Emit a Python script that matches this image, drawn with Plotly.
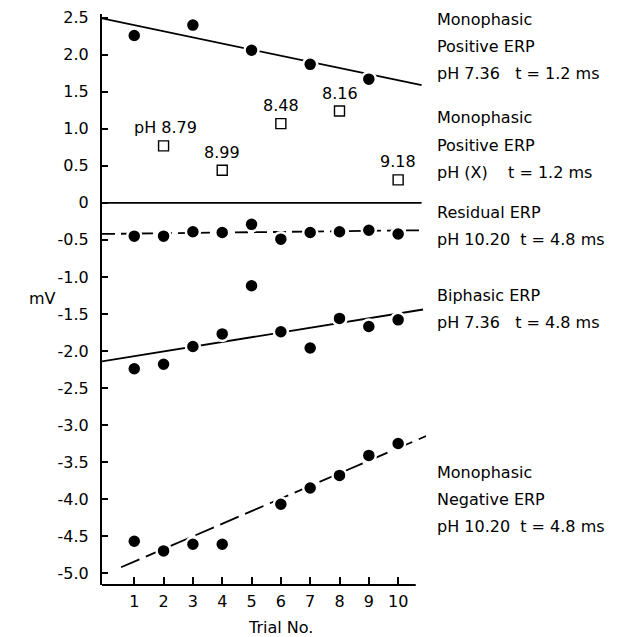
import plotly.graph_objects as go

# ---------------- data ----------------
pos736_x = [1, 3, 5, 7, 9]
pos736_y = [2.26, 2.40, 2.06, 1.87, 1.67]

phx_x = [2, 4, 6, 8, 10]
phx_y = [0.77, 0.44, 1.07, 1.24, 0.31]
phx_labels = ["pH 8.79", "8.99", "8.48", "8.16", "9.18"]

resid_x = [1, 2, 3, 4, 5, 6, 7, 8, 9, 10]
resid_y = [-0.45, -0.45, -0.39, -0.40, -0.29, -0.49, -0.40, -0.39, -0.37, -0.42]

biph_x = [1, 2, 3, 4, 5, 6, 7, 8, 9, 10]
biph_y = [-2.24, -2.18, -1.94, -1.77, -1.12, -1.74, -1.96, -1.56, -1.67, -1.58]

neg_x = [1, 2, 3, 4, 6, 7, 8, 9, 10]
neg_y = [-4.57, -4.70, -4.61, -4.61, -4.07, -3.85, -3.68, -3.41, -3.25]

# fitted lines (end points)
pos_fit_x = [-0.1, 10.8]
pos_fit_y = [2.49, 1.59]
resid_fit_x = [-0.1, 10.8]
resid_fit_y = [-0.42, -0.37]
biph_fit_x = [-0.1, 10.85]
biph_fit_y = [-2.14, -1.44]
neg_fit_x = [0.55, 10.95]
neg_fit_y = [-4.92, -3.15]

x_tickvals = [1, 2, 3, 4, 5, 6, 7, 8, 9, 10]
x_ticktext = ["1", "2", "3", "4", "5", "6", "7", "8", "9", "10"]
y_tickvals = [2.5, 2.0, 1.5, 1.0, 0.5, 0, -0.5, -1.0, -1.5, -2.0, -2.5, -3.0, -3.5, -4.0, -4.5, -5.0]
y_ticktext = ["2.5", "2.0", "1.5", "1.0", "0.5", "0", "-0.5", "-1.0", "-1.5", "-2.0", "-2.5",
              "-3.0", "-3.5", "-4.0", "-4.5", "-5.0"]

right_labels = [
    ["Monophasic", "Positive ERP", "pH 7.36\u00a0\u00a0\u00a0t = 1.2 ms"],
    ["Monophasic", "Positive ERP", "pH (X)\u00a0\u00a0\u00a0\u00a0t = 1.2 ms"],
    ["Residual ERP", "pH 10.20\u00a0\u00a0t = 4.8 ms"],
    ["Biphasic ERP", "pH 7.36\u00a0\u00a0\u00a0t = 4.8 ms"],
    ["Monophasic", "Negative ERP", "pH 10.20\u00a0\u00a0t = 4.8 ms"],
]
right_label_tops = [20, 118, 213, 295, 472]  # pixel rows of first line (window coords)

# ---------------- layout geometry ----------------
OFF = 8                      # the html page body has an 8px margin
W, H = 625 - OFF, 637 - OFF
PL, PR, PT, PB = 102, 426, 14, 585   # plot area in window pixels
ML, MR, MT, MB = PL - OFF, W - (PR - OFF), PT - OFF, H - (PB - OFF)
XR = [-0.1, 10.95]
YR = [-5.16, 2.55]
FONT = "DejaVu Sans"
FS = 16

def py(px):
    return (PB - px) / (PB - PT)

def pxx(px):
    return (px - PL) / (PR - PL)

fig = go.Figure()

line_style = dict(color="black", width=1.8)
fig.add_trace(go.Scatter(x=pos_fit_x, y=pos_fit_y, mode="lines", line=line_style))
fig.add_trace(go.Scatter(x=resid_fit_x, y=resid_fit_y, mode="lines",
                         line=dict(color="black", width=1.8, dash="13px,6px")))
fig.add_trace(go.Scatter(x=biph_fit_x, y=biph_fit_y, mode="lines", line=line_style))
fig.add_trace(go.Scatter(x=neg_fit_x, y=neg_fit_y, mode="lines",
                         line=dict(color="black", width=1.8, dash="20px,7px")))

dot = dict(color="black", size=14, line=dict(color="white", width=2.5))
for xs, ys in [(pos736_x, pos736_y), (resid_x, resid_y), (biph_x, biph_y), (neg_x, neg_y)]:
    fig.add_trace(go.Scatter(x=xs, y=ys, mode="markers", marker=dot))

fig.add_trace(go.Scatter(x=phx_x, y=phx_y, mode="markers",
                         marker=dict(symbol="square", color="white", size=10,
                                     line=dict(color="black", width=1.4))))

for x, y, t in zip(phx_x, phx_y, phx_labels):
    fig.add_annotation(x=x, y=y, text=t, showarrow=False, yshift=18,
                       xshift=2 if t.startswith("pH") else 0,
                       font=dict(family=FONT, size=FS, color="black"))

for block, top in zip(right_labels, right_label_tops):
    for i, t in enumerate(block):
        fig.add_annotation(xref="paper", yref="paper", x=pxx(435), y=py(top + 27 * i),
                           text=t, showarrow=False, xanchor="left", yanchor="middle",
                           font=dict(family=FONT, size=FS, color="black"))

fig.add_annotation(xref="paper", yref="paper", x=pxx(27), y=py(298), text="mV",
                   showarrow=False, font=dict(family=FONT, size=FS, color="black"))
fig.add_annotation(xref="paper", yref="paper", x=pxx(280), y=py(627), text="Trial No.",
                   showarrow=False, yanchor="middle",
                   font=dict(family=FONT, size=FS, color="black"))

# x-axis baseline ending short of the plot edge
fig.add_shape(type="line", xref="x", yref="paper", x0=XR[0], x1=10.6, y0=0, y1=0,
              line=dict(color="black", width=2))
# zero line
fig.add_shape(type="line", xref="x", yref="y", x0=XR[0], x1=10.8, y0=0, y1=0,
              line=dict(color="black", width=1.8))

fig.update_layout(
    width=W, height=H, margin=dict(l=ML, r=MR, t=MT, b=MB, autoexpand=False),
    paper_bgcolor="white", plot_bgcolor="white", showlegend=False,
    font=dict(family=FONT, size=FS, color="black"),
    xaxis=dict(range=XR, showgrid=False, zeroline=False, showline=False, automargin=False,
               tickmode="array", tickvals=x_tickvals, ticktext=x_ticktext,
               ticks="inside", ticklen=8, tickwidth=1.5, tickcolor="black",
               ticklabelstandoff=5),
    yaxis=dict(range=YR, showgrid=False, zeroline=False, showline=True, automargin=False,
               linecolor="black", linewidth=2,
               tickmode="array", tickvals=y_tickvals, ticktext=y_ticktext,
               ticks="inside", ticklen=6, tickwidth=1.5, tickcolor="black",
               ticklabelstandoff=8),
)

fig.write_html("out.html")
